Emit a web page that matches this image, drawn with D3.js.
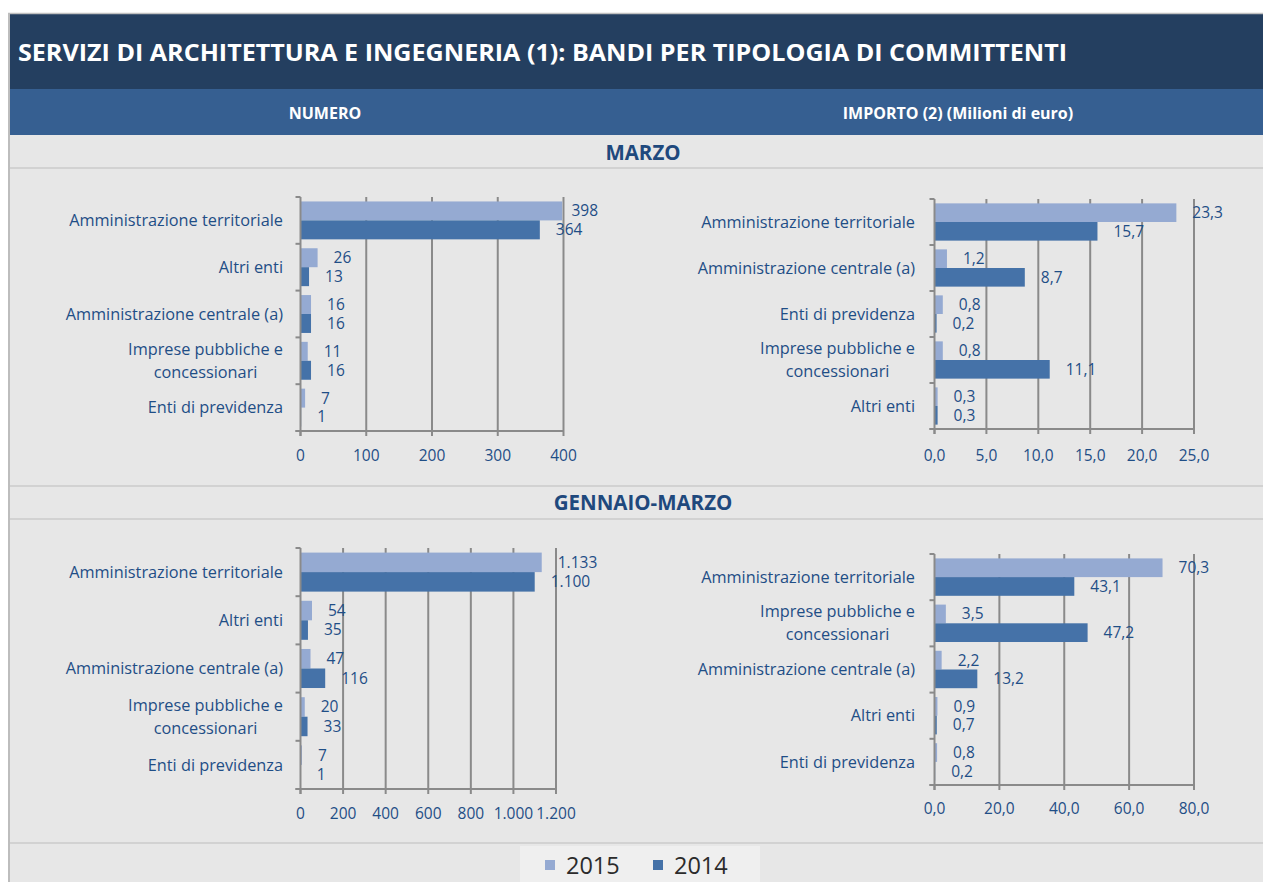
<!DOCTYPE html>
<meta charset="utf-8">
<style>
  body { margin: 0; background: #fff; }
  text { font-family: "Open Sans", sans-serif; }
  .cat { font-size: 16.3px; fill: #1f4e86; }
  .val { font-size: 15.5px; fill: #1f4e86; }
  .tick-label { font-size: 15.5px; fill: #1f4e86; text-anchor: middle; }
</style>
<svg width="1263" height="882"></svg>
<script src="https://d3js.org/d3.v7.min.js"></script>
<script>

var years = ["2015", "2014"];
var colorkey = ["#95aad2", "#4572a8"];

// MARZO - numero
var catMarzoNum = ["Amministrazione territoriale", "Altri enti", "Amministrazione centrale (a)", "Imprese pubbliche e|concessionari", "Enti di previdenza"];
var marzoNum2015 = [398, 26, 16, 11, 7];
var marzoNum2014 = [364, 13, 16, 16, 1];
var ticksMarzoNum = [0, 100, 200, 300, 400];

// MARZO - importo
var catMarzoImp = ["Amministrazione territoriale", "Amministrazione centrale (a)", "Enti di previdenza", "Imprese pubbliche e|concessionari", "Altri enti"];
var marzoImp2015 = [23.3, 1.2, 0.8, 0.8, 0.3];
var marzoImp2014 = [15.7, 8.7, 0.2, 11.1, 0.3];
var ticksMarzoImp = [0, 5, 10, 15, 20, 25];

// GENNAIO-MARZO - numero
var catGmNum = ["Amministrazione territoriale", "Altri enti", "Amministrazione centrale (a)", "Imprese pubbliche e|concessionari", "Enti di previdenza"];
var gmNum2015 = [1133, 54, 47, 20, 7];
var gmNum2014 = [1100, 35, 116, 33, 1];
var ticksGmNum = [0, 200, 400, 600, 800, 1000, 1200];

// GENNAIO-MARZO - importo
var catGmImp = ["Amministrazione territoriale", "Imprese pubbliche e|concessionari", "Amministrazione centrale (a)", "Altri enti", "Enti di previdenza"];
var gmImp2015 = [70.3, 3.5, 2.2, 0.9, 0.8];
var gmImp2014 = [43.1, 47.2, 13.2, 0.7, 0.2];
var ticksGmImp = [0, 20, 40, 60, 80];

var it = d3.formatLocale({decimal: ",", thousands: ".", grouping: [3], currency: ["€", ""]});
var fmtInt = it.format(",d"),
    fmtDec = it.format(",.1f");

var svg = d3.select("svg");

// frame and bands
svg.append("rect").attr("x", 9).attr("y", 14).attr("width", 1254).attr("height", 868).attr("fill", "#e7e7e7");
svg.append("rect").attr("x", 9).attr("y", 14).attr("width", 1254).attr("height", 75).attr("fill", "#243f60");
svg.append("rect").attr("x", 9).attr("y", 89).attr("width", 1254).attr("height", 46).attr("fill", "#365f91");
svg.append("line").attr("x1", 8).attr("x2", 1263).attr("y1", 13.5).attr("y2", 13.5).attr("stroke", "#c0c0c0").attr("stroke-width", 1.5);
svg.append("line").attr("x1", 9).attr("x2", 9).attr("y1", 13).attr("y2", 882).attr("stroke", "#bdbdbd").attr("stroke-width", 2);
[168, 486, 519, 843].forEach(function(y) {
  svg.append("line").attr("x1", 10).attr("x2", 1263).attr("y1", y).attr("y2", y).attr("stroke", "#d2d2d2").attr("stroke-width", 2);
});

svg.append("text")
    .attr("x", 18).attr("y", 61)
    .attr("fill", "#fff")
    .style("font-weight", "bold").style("font-size", "23.5px")
    .attr("textLength", 1049).attr("lengthAdjust", "spacingAndGlyphs")
    .text("SERVIZI DI ARCHITETTURA E INGEGNERIA (1): BANDI PER TIPOLOGIA DI COMMITTENTI");

svg.append("text").attr("x", 325).attr("y", 119).attr("fill", "#fff").attr("text-anchor", "middle")
    .style("font-weight", "bold").style("font-size", "16px").text("NUMERO");
svg.append("text").attr("x", 958).attr("y", 119).attr("fill", "#fff").attr("text-anchor", "middle")
    .style("font-weight", "bold").style("font-size", "16px").text("IMPORTO (2) (Milioni di euro)");

svg.append("text").attr("x", 643).attr("y", 160).attr("fill", "#1f497d").attr("text-anchor", "middle")
    .style("font-weight", "bold").style("font-size", "20.5px").text("MARZO");
svg.append("text").attr("x", 643).attr("y", 510).attr("fill", "#1f497d").attr("text-anchor", "middle")
    .style("font-weight", "bold").style("font-size", "20.5px").text("GENNAIO-MARZO");

drawPanel({x0: 300.5, x1: 563.5, top: 197, bottom: 431, tickY: 461, catRight: 283},
  catMarzoNum, marzoNum2015, marzoNum2014, ticksMarzoNum, fmtInt, fmtInt);
drawPanel({x0: 934.5, x1: 1194, top: 199, bottom: 429, tickY: 461, catRight: 915},
  catMarzoImp, marzoImp2015, marzoImp2014, ticksMarzoImp, fmtDec, fmtDec);
drawPanel({x0: 300.5, x1: 556, top: 548, bottom: 789, tickY: 819, catRight: 283},
  catGmNum, gmNum2015, gmNum2014, ticksGmNum, fmtInt, fmtInt);
drawPanel({x0: 934.5, x1: 1194, top: 554, bottom: 785, tickY: 814, catRight: 915},
  catGmImp, gmImp2015, gmImp2014, ticksGmImp, fmtDec, fmtDec);

function drawPanel(p, cats, v2015, v2014, ticks, tickFmt, valFmt) {
  var g = svg.append("g");

  var x = d3.scaleLinear()
      .domain([0, ticks[ticks.length - 1]])
      .range([p.x0, p.x1]);

  var y = d3.scaleBand()
      .domain(cats)
      .range([p.top, p.bottom]);

  var y1 = d3.scaleBand()
      .domain(years)
      .range([0, y.bandwidth()])
      .paddingOuter(0.235);

  // gridlines
  g.selectAll(".grid")
    .data(ticks.slice(1))
    .enter().append("line")
      .attr("x1", function(d) { return x(d); })
      .attr("x2", function(d) { return x(d); })
      .attr("y1", p.top)
      .attr("y2", p.bottom)
      .attr("stroke", "#8a8a8a")
      .attr("stroke-width", 2);

  var rows = cats.map(function(c, i) {
    return {cat: c, vals: [v2015[i], v2014[i]]};
  });

  var row = g.selectAll(".row")
    .data(rows)
    .enter().append("g")
      .attr("transform", function(d) { return "translate(0," + y(d.cat) + ")"; });

  row.selectAll("rect")
    .data(function(d) { return d.vals.map(function(v, k) { return {year: years[k], v: v}; }); })
    .enter().append("rect")
      .attr("x", x(0))
      .attr("y", function(d) { return y1(d.year); })
      .attr("width", function(d) { return x(d.v) - x(0); })
      .attr("height", y1.bandwidth())
      .attr("fill", function(d, k) { return colorkey[k]; });

  row.selectAll(".val")
    .data(function(d) { return d.vals.map(function(v, k) { return {year: years[k], v: v}; }); })
    .enter().append("text")
      .attr("class", "val")
      .attr("x", function(d) { return Math.min(x(d.v) + 16, p.x1 + 8); })
      .attr("y", function(d) { return y1(d.year) + y1.bandwidth() / 2; })
      .attr("dy", "0.35em")
      .text(function(d) { return valFmt(d.v); });

  // category labels, multi-line centred inside a right-aligned block
  row.each(function(d) {
    var lines = d.cat.split("|");
    var t = d3.select(this).append("text")
        .attr("class", "cat")
        .attr("text-anchor", "middle");
    var lh = 23;
    var y0 = y.bandwidth() / 2 - (lines.length - 1) * lh / 2;
    var spans = lines.map(function(l, k) {
      return t.append("tspan").attr("y", y0 + k * lh).attr("dy", "0.35em").text(l);
    });
    var w = d3.max(spans, function(s) { return s.node().getComputedTextLength(); });
    spans.forEach(function(s) { s.attr("x", p.catRight - w / 2); });
  });

  // axes
  g.append("line")
      .attr("x1", p.x0).attr("x2", p.x0)
      .attr("y1", p.top).attr("y2", p.bottom + 5)
      .attr("stroke", "#8a8a8a").attr("stroke-width", 2);
  g.append("line")
      .attr("x1", p.x0 - 5).attr("x2", p.x1)
      .attr("y1", p.bottom).attr("y2", p.bottom)
      .attr("stroke", "#8a8a8a").attr("stroke-width", 2);

  var bounds = cats.map(function(c) { return y(c); }).concat([p.bottom]);
  g.selectAll(".ytick")
    .data(bounds)
    .enter().append("line")
      .attr("x1", p.x0 - 5).attr("x2", p.x0)
      .attr("y1", function(d) { return d; }).attr("y2", function(d) { return d; })
      .attr("stroke", "#8a8a8a").attr("stroke-width", 2);

  g.selectAll(".xtick")
    .data(ticks)
    .enter().append("line")
      .attr("x1", function(d) { return x(d); }).attr("x2", function(d) { return x(d); })
      .attr("y1", p.bottom).attr("y2", p.bottom + 5)
      .attr("stroke", "#8a8a8a").attr("stroke-width", 2);

  g.selectAll(".tick-label")
    .data(ticks)
    .enter().append("text")
      .attr("class", "tick-label")
      .attr("x", function(d) { return x(d); })
      .attr("y", p.tickY)
      .text(function(d) { return tickFmt(d); });
}

// legend
svg.append("rect").attr("x", 520).attr("y", 846).attr("width", 240).attr("height", 36).attr("fill", "#efefef");
var legend = svg.append("g").attr("transform", "translate(545,860)");
years.forEach(function(yr, i) {
  var lg = legend.append("g").attr("transform", "translate(" + (i * 108) + ",0)");
  lg.append("rect").attr("width", 10).attr("height", 10).attr("fill", colorkey[i]);
  lg.append("text").attr("x", 21).attr("y", 14)
      .attr("fill", "#2b2b2b")
      .style("font-size", "23.5px")
      .text(yr);
});

</script>
